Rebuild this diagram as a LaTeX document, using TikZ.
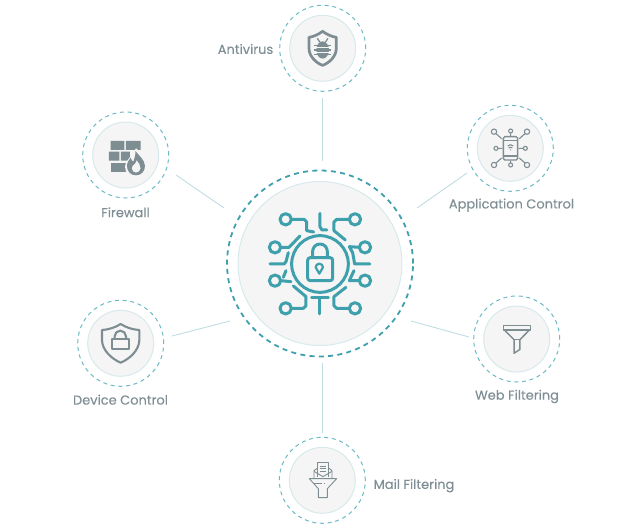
\documentclass[tikz,border=0pt]{standalone}
\usepackage{fontspec}
\setmainfont{Poppins}[UprightFeatures={FakeBold=0.25}]
\definecolor{teal1}{HTML}{3FA0AD}
\definecolor{teal2}{HTML}{6BBAC5}
\definecolor{disc}{HTML}{F5F5F5}
\definecolor{discline}{HTML}{D8E9EC}
\definecolor{linkc}{HTML}{BFDDE2}
\definecolor{slate}{HTML}{7D8D92}
\definecolor{labelc}{HTML}{7F8E94}
\tikzset{
  hubring/.style={circle,draw=teal1,line width=1.8pt,dash pattern=on 5pt off 4.3pt,minimum size=186pt,inner sep=0pt},
  hubdisc/.style={circle,draw=discline,fill=disc,line width=1pt,minimum size=164pt,inner sep=0pt},
  satring/.style={circle,draw=teal2,line width=1pt,dash pattern=on 4pt off 3.7pt,minimum size=86pt,inner sep=0pt},
  satdisc/.style={circle,draw=discline,fill=disc,line width=1pt,minimum size=66pt,inner sep=0pt},
  link/.style={draw=linkc,line width=0.9pt},
  lab/.style={text=labelc,font=\fontsize{13}{15}\selectfont,inner sep=0pt},
  hubicon/.style={draw=teal1,line width=3pt,line cap=round,line join=round,fill=none},
  icon/.style={draw=slate,line width=1.4pt,line join=round,fill=none},
  zoomed/.style={shift={#1},x=0.3333pt,y=-0.3333pt}
}
\begin{document}
\begin{tikzpicture}[x=1pt,y=-1pt]
\useasboundingbox (0,0) rectangle (640,532);
% rings and discs
\node[hubring] (hub) at (320,263.5) {};
\node[hubdisc] (hubd) at (320,263.5) {};
\node[satring] (av) at (322.7,48.3) {};
\node[satdisc] (avd) at (322.7,48.3) {};
\node[satring] (fw) at (125.7,155) {};
\node[satdisc] (fwd) at (125.7,155) {};
\node[satring] (ac) at (510.3,148.3) {};
\node[satdisc] (acd) at (510.3,148.3) {};
\node[satring] (dc) at (120.7,343.3) {};
\node[satdisc] (dcd) at (120.7,343.3) {};
\node[satring] (wf) at (516.7,339) {};
\node[satdisc] (wfd) at (516.7,339) {};
\node[satring] (mf) at (322.3,480.3) {};
\node[satdisc] (mfd) at (322.3,480.3) {};
% connectors
\draw[link] ([shift={(2.5,-102.5)}]hub.center) -- ([shift={(-0.2,49.7)}]av.center);
\draw[link] ([shift={(-96,-55.5)}]hub.center) -- ([shift={(50.3,20)}]fw.center);
\draw[link] ([shift={(97,-55.5)}]hub.center) -- ([shift={(-43.3,24.7)}]ac.center);
\draw[link] ([shift={(-90,57.5)}]hub.center) -- ([shift={(51.3,-7.3)}]dc.center);
\draw[link] ([shift={(91,57.5)}]hub.center) -- ([shift={(-47.7,-2)}]wf.center);
\draw[link] ([shift={(2.5,99.5)}]hub.center) -- ([shift={(0.2,-47.3)}]mf.center);
% labels
\node[lab] (lav) at (245.5,49) {Antivirus};
\node[lab] (lfw) at (125.5,212.3) {Firewall};
\node[lab] (lac) at (511.5,205.2) {Application Control};
\node[lab] (ldc) at (120.5,399.7) {Device Control};
\node[lab] (lwf) at (517,396.5) {Web Filtering};
\node[lab] (lmf) at (414,485.7) {Mail Filtering};
% hub icon
\begin{scope}[zoomed={(220,160)}]
\draw[hubicon] (300,312) circle (85);
\draw[hubicon] (263,301) .. controls (263,296) and (266,293) .. (271,293) -- (330,293) .. controls (335,293) and (338,296) .. (338,301) -- (338,354) .. controls (338,359) and (335,362) .. (330,362) -- (271,362) .. controls (266,362) and (263,359) .. (263,354) -- cycle;
\draw[hubicon] (278,293) -- (278,274) arc (180:360:22) -- (322,293);
\draw[hubicon,line width=2.2pt] (298,341) -- (287,322) arc (180:360:11) -- cycle;
\foreach \c in {(197,178),(405,178),(165,262),(435,262),(165,362),(435,362),(197,445),(405,445)}
  \draw[hubicon] \c circle (17);
\draw[hubicon] (214,178) -- (252,178) -- (260,186) -- (260,212) -- (281,216);
\draw[hubicon] (300,160) -- (300,200) -- (306,210) -- (321,210);
\draw[hubicon] (388,178) -- (350,178) -- (342,186) -- (342,212) -- (376,240);
\draw[hubicon] (182,262) -- (207,262) -- (240,228);
\draw[hubicon] (418,262) -- (388,260) -- (398,278) -- (404,312) -- (450,312);
\draw[hubicon] (150,312) -- (192,312) -- (198,305) -- (205,278);
\draw[hubicon] (198,332) -- (190,352);
\draw[hubicon] (182,362) -- (213,365);
\draw[hubicon] (418,362) -- (388,362) -- (402,332);
\draw[hubicon] (214,445) -- (250,445) -- (258,437) -- (258,410) -- (220,378);
\draw[hubicon] (388,445) -- (350,445) -- (342,437) -- (342,410) -- (378,382);
\draw[hubicon] (275,412) -- (325,412);
\draw[hubicon] (300,412) -- (300,462);
\end{scope}
% antivirus
\begin{scope}[zoomed={(210,0)}]
\draw[icon,line width=2.7pt] (338,94) .. controls (325,104) and (310,110) .. (297,112) -- (297,145) .. controls (297,170) and (320,190) .. (338,196) .. controls (356,190) and (379,170) .. (379,145) -- (379,112) .. controls (366,110) and (351,104) .. (338,94) -- cycle;
\draw[icon,line width=1.3pt] (322,115) -- (330,127) (354,115) -- (346,127);
\draw[icon,line width=1.3pt] (313,136) -- (363,136) (313,150) -- (363,150) (313,164) -- (363,164);
\fill[slate] (338,150) ellipse (19 and 26);
\draw[disc,line width=0.9pt] (318,143) -- (358,143) (318,157) -- (358,157);
\end{scope}
% firewall
\begin{scope}[zoomed={(70,105)}]
\fill[slate] (122,108) rectangle (163,135) (168,108) rectangle (212,135);
\fill[slate] (117,140) rectangle (148,167) (153,140) rectangle (180,167);
\fill[slate] (122,173) rectangle (170,200);
\fill[disc] (198,130) .. controls (212,140) and (235,165) .. (232,185) .. controls (230,205) and (212,218) .. (198,218) .. controls (180,218) and (165,205) .. (165,185) .. controls (165,170) and (180,160) .. (198,130) -- cycle;
\fill[slate,even odd rule] (196,138) .. controls (205,150) and (225,165) .. (225,183) .. controls (225,200) and (212,211) .. (198,211) .. controls (183,211) and (171,200) .. (171,183) .. controls (171,172) and (177,165) .. (182,158) .. controls (184,165) and (186,168) .. (190,170) .. controls (194,160) and (197,150) .. (196,138) -- cycle
 (200,165) .. controls (200,175) and (185,180) .. (185,190) .. controls (185,198) and (192,203) .. (198,203) .. controls (205,203) and (212,197) .. (212,190) .. controls (212,180) and (205,172) .. (200,165) -- cycle;
\end{scope}
% application control
\begin{scope}[zoomed={(440,100)},icon/.append style={line width=1.1pt}]
\draw[icon,line width=1.4pt,rounded corners=1.5pt] (190,110) rectangle (233,180);
\draw[icon] (190,122) -- (233,122) (190,168) -- (233,168);
\draw[icon] (203,138) .. controls (208,133) and (215,133) .. (220,138) (206,144) .. controls (209,141) and (214,141) .. (217,144);
\fill[slate] (211.5,150) circle (2);
\foreach \a/\b/\r in {162/95/8,212/93/6,261/95/8,168/145/6,256/145/6,162/195/8,212/195/6,261/195/8}
  \draw[icon] (\a,\b) circle (\r);
\draw[icon] (168,101) -- (185,116) (212,99) -- (212,108) (255,101) -- (238,116) (174,145) -- (187,145) (250,145) -- (236,145) (168,189) -- (185,174) (212,189) -- (212,182) (255,189) -- (238,174);
\end{scope}
% device control
\begin{scope}[zoomed={(65,295)}]
\draw[icon,line width=2.1pt] (167,87) .. controls (150,98) and (130,104) .. (111,105) -- (111,135) .. controls (111,165) and (140,192) .. (167,203) .. controls (194,192) and (223,165) .. (223,135) -- (223,105) .. controls (204,104) and (184,98) .. (167,87) -- cycle;
\draw[icon,line width=2.1pt] (140,133) rectangle (192,163);
\draw[icon,line width=2.1pt] (149,133) -- (149,124) arc (180:360:17) -- (183,133);
\end{scope}
% web filtering
\begin{scope}[zoomed={(465,290)}]
\draw[icon,line width=1.5pt] (115,107) -- (197,107) -- (197,120) -- (115,120) -- cycle;
\draw[icon,line width=1.5pt] (118,120) -- (147,149) -- (147,190) -- (165,178) -- (165,149) -- (193,120);
\draw[icon,line width=1.5pt] (147,149) -- (165,149);
\end{scope}
% mail filtering
\begin{scope}[zoomed={(270,432)}]
\draw[icon,line width=0.9pt] (143,135) -- (143,92) -- (176,92) -- (176,135);
\draw[icon,line width=0.8pt] (150,102) -- (169,102) (150,110) -- (169,110) (150,118) -- (169,118);
\draw[icon,line width=0.9pt] (143,108) -- (132,116) -- (132,138) (176,108) -- (186,116) -- (186,138);
\draw[icon,line width=0.9pt] (132,118) -- (159,134) -- (186,118);
\draw[icon,line width=0.9pt] (118,140) -- (200,140) -- (172,170) -- (172,197) -- (145,197) -- (145,170) -- cycle;
\draw[icon,line width=0.9pt] (133,155) -- (155,155) (162,155) -- (166,155);
\end{scope}
\end{tikzpicture}
\end{document}
